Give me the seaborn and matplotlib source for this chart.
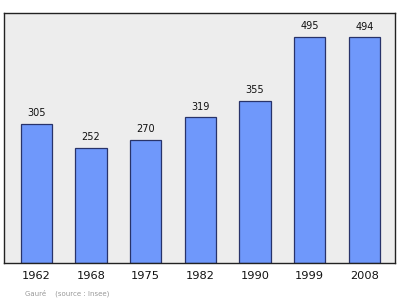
import matplotlib
matplotlib.use("Agg")
import matplotlib.pyplot as plt
import seaborn as sns
import pandas as pd

years = ["1962", "1968", "1975", "1982", "1990", "1999", "2008"]
population = [305, 252, 270, 319, 355, 495, 494]

df = pd.DataFrame({"year": years, "pop": population})

sns.set_style("white")
plt.rcParams["font.family"] = ["DejaVu Sans"]

fig = plt.figure(figsize=(4.0, 2.99), dpi=100)
ax = fig.add_axes([4/400, 1 - 263/299, 391/400, 250/299])
ax.set_facecolor("#ededed")

sns.barplot(data=df, x="year", y="pop", color="#6f98fb", width=0.57,
            edgecolor="#28336a", linewidth=0.9, saturation=1, ax=ax)

for i, v in enumerate(population):
    ax.text(i, v + 12, str(v), ha="center", va="bottom", fontsize=7, color="#111111")

ax.set_xlim(-0.59, 6.56)
ax.set_ylim(0, 547)
ax.set_yticks([])
ax.set_xlabel("")
ax.set_ylabel("")
ax.tick_params(axis="x", length=0, labelsize=8.2, pad=6, colors="#111111")
for s in ax.spines.values():
    s.set_visible(True)
    s.set_color("#222222")
    s.set_linewidth(1.0)

fig.text(25/400, 1 - 293/299, "Gauré    (source : Insee)", fontsize=5, color="#999999",
         ha="left", va="center")

fig.savefig("out.png", dpi=100, facecolor="white")
